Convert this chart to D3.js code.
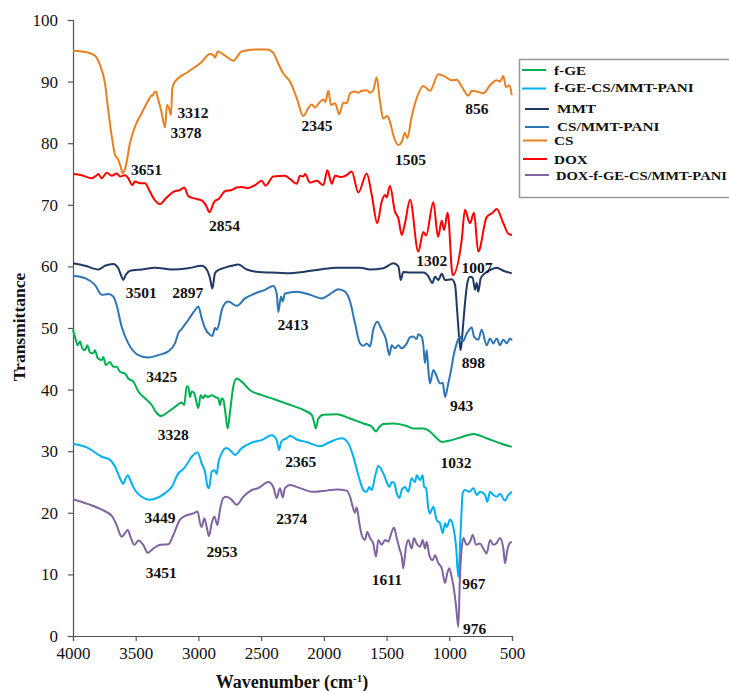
<!DOCTYPE html>
<html><head><meta charset="utf-8">
<script src="https://cdn.jsdelivr.net/npm/d3@7"></script>
<style>body{margin:0;background:#fff;} svg{display:block;}</style>
</head><body>
<svg id="chart" width="729" height="691"></svg>
<script>
// ---- DATA ----
const seriesNames = ["f-GE","f-GE-CS/MMT-PANI","MMT","CS/MMT-PANI","CS","DOX","DOX-f-GE-CS/MMT-PANI"];
const seriesColors = ["#00B050","#00B0F0","#1F3864","#2E75B6","#E8801F","#FF0000","#8064A2"];
const xTicks = [4000,3500,3000,2500,2000,1500,1000,500];
const yTicks = [0,10,20,30,40,50,60,70,80,90,100];

const csData = [[4000,95.0],[3878,94.7],[3825,94.2],[3785,92.7],[3745,89.7],[3719,85.4],[3691,81.1],[3665,78.1],[3639,77.3],[3620,76.2],[3604,75.1],[3580,76.2],[3546,80.0],[3506,82.7],[3452,84.9],[3412,86.5],[3386,87.4],[3373,87.8],[3365,87.7],[3354,88.2],[3338,88.4],[3325,87.4],[3298,85.4],[3266,82.6],[3251,86.2],[3235,85.7],[3219,84.6],[3208,88.9],[3187,90.0],[3081,91.6],[2974,93.2],[2908,94.5],[2881,94.3],[2868,93.9],[2846,94.9],[2788,94.2],[2722,93.4],[2655,94.9],[2549,95.2],[2456,95.2],[2400,94.6],[2376,93.5],[2323,91.3],[2270,90.0],[2216,87.3],[2164,84.4],[2124,85.7],[2097,86.3],[2071,85.8],[2031,86.7],[2004,87.1],[1988,86.7],[1964,88.5],[1943,86.2],[1911,86.5],[1877,84.7],[1845,86.6],[1818,86.5],[1791,88.1],[1752,88.4],[1725,88.2],[1698,88.5],[1658,88.6],[1632,88.2],[1606,88.6],[1579,90.7],[1552,86.7],[1526,84.0],[1494,84.4],[1473,83.5],[1446,81.3],[1406,79.7],[1379,80.2],[1353,81.7],[1335,80.8],[1300,84.3],[1260,87.3],[1207,89.3],[1154,88.5],[1087,91.2],[1034,90.8],[981,90.2],[941,90.3],[901,89.2],[848,87.7],[821,88.5],[781,88.4],[729,88.1],[675,89.4],[622,90.2],[596,90.0],[569,90.9],[548,89.1],[521,89.4],[502,87.8]];

const doxData = [[4000,75.0],[3931,74.8],[3851,74.3],[3811,74.8],[3798,75.0],[3771,74.3],[3731,75.2],[3691,74.7],[3652,75.1],[3625,74.6],[3585,74.8],[3559,74.3],[3527,73.2],[3506,73.8],[3466,73.5],[3426,73.5],[3386,72.1],[3346,70.7],[3306,70.1],[3266,70.9],[3200,72.1],[3147,72.4],[3113,72.8],[3081,71.4],[3027,71.0],[2974,70.7],[2934,69.7],[2913,68.8],[2873,70.5],[2836,71.0],[2788,72.2],[2735,72.4],[2695,72.8],[2655,72.9],[2607,72.7],[2549,73.2],[2496,73.9],[2464,73.1],[2403,74.6],[2310,74.7],[2270,74.2],[2216,73.4],[2190,74.7],[2164,74.6],[2150,75.0],[2110,73.6],[2057,73.9],[2004,73.2],[1972,75.6],[1937,73.4],[1911,74.7],[1858,74.5],[1818,74.8],[1778,75.4],[1725,72.0],[1658,75.1],[1618,71.6],[1574,67.0],[1539,70.5],[1512,71.6],[1499,71.2],[1473,73.1],[1433,68.9],[1406,67.8],[1379,65.1],[1353,67.0],[1313,70.8],[1247,62.4],[1207,65.6],[1185,65.0],[1127,70.4],[1090,64.8],[1060,67.4],[1042,65.9],[1013,68.7],[973,58.6],[901,64.3],[875,69.2],[835,67.0],[803,68.7],[769,62.4],[702,68.0],[654,68.7],[622,69.3],[569,67.0],[529,65.3],[500,65.1]];

const mmtData = [[4000,60.5],[3904,60.1],[3798,59.5],[3745,60.1],[3679,60.4],[3639,59.7],[3612,58.3],[3599,57.8],[3580,58.6],[3545,59.3],[3452,59.5],[3346,59.8],[3213,59.5],[3081,59.7],[2974,60.1],[2934,59.5],[2908,58.1],[2889,56.4],[2868,58.9],[2842,59.4],[2788,59.8],[2735,60.1],[2682,60.3],[2615,59.5],[2523,59.1],[2416,59.0],[2296,58.9],[2164,59.1],[2031,59.5],[1897,59.8],[1712,59.8],[1632,59.5],[1526,59.7],[1446,60.5],[1406,60.0],[1387,57.8],[1367,59.1],[1313,59.0],[1207,59.0],[1167,58.4],[1135,57.3],[1114,58.3],[1087,57.8],[1060,58.8],[1034,57.8],[981,57.9],[954,57.0],[936,52.4],[920,48.1],[909,46.4],[893,49.7],[875,54.0],[856,57.3],[835,58.3],[813,58.1],[795,56.2],[781,57.3],[769,55.9],[749,58.1],[715,58.9],[675,59.4],[622,59.8],[569,59.3],[502,58.9]];

const csMmtPaniData = [[4000,58.5],[3904,58.1],[3825,57.0],[3771,55.4],[3719,55.5],[3679,55.1],[3652,53.7],[3612,50.2],[3559,47.5],[3479,45.6],[3400,45.2],[3320,45.6],[3240,46.2],[3187,47.5],[3155,49.4],[3139,49.7],[3121,50.2],[3081,51.3],[3027,52.9],[3001,53.5],[2974,51.6],[2948,50.0],[2908,48.9],[2889,48.7],[2868,50.0],[2854,49.7],[2842,50.2],[2814,52.9],[2788,54.0],[2762,54.3],[2695,53.6],[2629,54.8],[2549,55.6],[2469,56.2],[2403,56.8],[2376,55.6],[2363,52.6],[2342,55.1],[2328,54.3],[2310,55.6],[2216,55.9],[2110,55.4],[2017,54.8],[1951,55.5],[1885,56.3],[1831,55.9],[1791,54.3],[1752,50.8],[1712,47.5],[1685,47.1],[1658,47.5],[1632,47.0],[1606,49.7],[1574,51.0],[1539,49.7],[1504,48.1],[1478,45.6],[1459,47.2],[1433,46.7],[1406,47.2],[1379,46.7],[1339,47.5],[1313,48.5],[1287,48.6],[1260,48.2],[1247,49.0],[1220,48.6],[1207,47.2],[1194,44.3],[1180,46.4],[1167,43.2],[1154,41.0],[1127,43.2],[1100,42.1],[1074,41.0],[1052,41.1],[1034,38.8],[1008,41.0],[981,43.7],[968,45.3],[941,47.5],[915,48.6],[893,47.8],[861,49.1],[821,50.1],[803,48.6],[769,48.1],[742,49.7],[702,47.2],[675,48.3],[649,47.5],[622,48.3],[596,47.2],[569,48.1],[542,47.5],[516,48.3],[500,48.0]];

const fgeData = [[4000,49.7],[3978,48.1],[3963,47.2],[3944,47.8],[3926,46.7],[3904,46.4],[3886,47.2],[3864,46.0],[3838,45.9],[3825,46.4],[3803,45.1],[3771,44.8],[3758,45.3],[3739,44.0],[3705,44.5],[3679,43.7],[3652,43.7],[3625,42.9],[3585,42.6],[3559,41.8],[3519,41.3],[3479,39.7],[3426,38.6],[3373,37.5],[3333,36.2],[3298,35.7],[3240,36.4],[3187,37.2],[3133,37.9],[3113,37.5],[3094,40.5],[3081,40.5],[3067,38.8],[3054,39.7],[3033,39.4],[3014,37.8],[3001,37.0],[2982,39.1],[2961,38.6],[2948,39.1],[2926,38.8],[2894,39.1],[2868,38.8],[2842,38.6],[2828,37.5],[2814,38.6],[2802,38.4],[2788,36.7],[2767,33.7],[2748,36.4],[2722,40.5],[2695,41.8],[2655,41.3],[2589,39.9],[2496,39.1],[2389,38.4],[2296,37.7],[2164,36.7],[2097,35.9],[2079,34.8],[2065,33.7],[2044,35.3],[2004,35.9],[1897,36.0],[1791,35.3],[1685,34.5],[1618,34.0],[1584,33.2],[1566,33.7],[1526,34.4],[1446,34.5],[1339,34.1],[1287,33.7],[1207,33.7],[1154,33.2],[1100,32.1],[1060,31.5],[981,31.8],[888,32.4],[808,32.8],[702,32.1],[596,31.3],[502,30.7]];

const fgeCsMmtPaniData = [[4000,31.2],[3878,30.5],[3771,29.1],[3705,28.6],[3665,27.5],[3625,25.6],[3599,24.7],[3580,25.6],[3564,26.1],[3538,25.0],[3506,23.7],[3452,22.6],[3392,22.1],[3320,22.5],[3266,23.2],[3213,24.2],[3160,26.4],[3121,27.1],[3094,27.8],[3054,29.1],[3006,29.8],[2974,28.0],[2948,26.7],[2926,24.2],[2916,24.0],[2894,26.7],[2873,26.9],[2854,26.3],[2842,28.0],[2814,29.7],[2775,30.5],[2735,29.9],[2708,29.4],[2655,30.5],[2575,31.4],[2496,31.8],[2416,32.6],[2376,31.8],[2357,30.2],[2342,31.4],[2328,31.8],[2296,32.1],[2270,32.5],[2216,31.9],[2137,31.5],[2031,30.8],[1951,31.5],[1858,32.1],[1805,31.3],[1765,29.1],[1725,26.1],[1685,23.7],[1658,23.4],[1638,24.2],[1618,23.7],[1592,25.9],[1566,27.6],[1526,26.4],[1499,25.0],[1478,24.2],[1459,25.0],[1441,24.9],[1419,23.2],[1398,22.4],[1379,23.7],[1353,24.2],[1327,23.4],[1300,25.6],[1273,25.0],[1260,26.1],[1233,25.3],[1212,26.1],[1201,24.2],[1185,24.0],[1167,20.7],[1154,19.9],[1127,21.0],[1100,18.8],[1074,18.3],[1052,16.7],[1034,18.3],[1020,17.7],[994,18.9],[968,17.7],[946,14.5],[928,9.6],[909,17.2],[893,23.2],[875,23.7],[840,23.4],[808,24.0],[781,22.9],[755,23.4],[715,22.9],[697,21.8],[675,23.4],[649,22.9],[622,22.6],[596,23.1],[556,22.0],[529,22.9],[502,23.4]];

const doxFgeData = [[4000,22.2],[3878,21.4],[3771,20.5],[3687,19.4],[3652,18.0],[3612,16.1],[3585,16.7],[3564,17.2],[3538,15.9],[3511,14.8],[3479,15.5],[3440,14.8],[3404,13.5],[3360,14.2],[3306,14.8],[3240,14.9],[3200,16.4],[3147,18.9],[3094,19.6],[3041,19.9],[3006,20.2],[2987,18.3],[2974,17.7],[2953,19.1],[2934,17.7],[2916,16.2],[2894,18.3],[2873,19.4],[2849,18.0],[2828,20.5],[2802,22.4],[2775,22.6],[2735,22.1],[2695,21.3],[2642,22.6],[2575,23.7],[2523,24.0],[2443,25.0],[2403,24.2],[2376,22.4],[2350,24.0],[2328,22.5],[2310,24.0],[2270,24.5],[2190,24.0],[2084,23.4],[1977,23.6],[1897,23.8],[1818,23.6],[1791,22.6],[1770,21.0],[1752,20.0],[1738,20.9],[1717,18.3],[1698,16.4],[1672,15.6],[1654,16.9],[1632,15.9],[1606,15.0],[1584,12.9],[1566,15.6],[1539,14.8],[1512,15.6],[1486,15.3],[1459,16.9],[1441,17.6],[1419,15.9],[1398,14.2],[1379,12.9],[1367,11.0],[1345,14.5],[1327,15.6],[1300,14.2],[1281,15.9],[1260,15.0],[1233,14.5],[1212,15.6],[1194,14.2],[1180,15.3],[1159,13.1],[1132,12.3],[1114,13.1],[1087,11.8],[1060,11.0],[1034,8.6],[1016,10.2],[1000,11.0],[981,9.6],[962,7.5],[946,4.8],[928,1.5],[915,9.6],[901,14.2],[888,15.9],[861,14.8],[835,15.3],[813,16.4],[787,14.8],[755,15.0],[729,14.2],[702,13.4],[675,15.6],[649,14.8],[622,15.1],[596,15.9],[569,14.2],[556,11.8],[537,14.0],[521,15.0],[502,15.3]];

// draw order (back to front)
const seriesData = [fgeData, fgeCsMmtPaniData, mmtData, csMmtPaniData, csData, doxData, doxFgeData];

const annoText = ["3651","3312","3378","2854","2345","1505","856","1302","1007","3501","2897","2413","898","943","3425","3328","1032","2365","3449","2953","2374","3451","1611","967","976"];
const annoWave = [3414,3043,3099,2792,2055,1309,781,1140,779,3455,3085,2246,808,901,3293,3200,946,2184,3306,2812,2256,3296,1497,804,797];
const annoValue = [74.8,84.1,80.8,65.8,81.9,76.5,84.7,60.1,59.0,54.8,54.8,49.6,43.5,36.6,41.3,31.8,27.2,27.4,18.4,12.9,18.2,9.4,8.3,7.7,0.4];

// ---- CHART ----
const svg = d3.select("#chart");
const x = d3.scaleLinear().domain([4000, 500]).range([73, 512]);
const y = d3.scaleLinear().domain([0, 100]).range([636, 20]);
const serif = "'Liberation Serif','Times New Roman',serif";

const xAxis = svg.append("g").attr("transform", "translate(0,636)")
  .call(d3.axisBottom(x).tickValues(xTicks).tickSize(5).tickPadding(6).tickFormat(d3.format("d")));
const yAxis = svg.append("g").attr("transform", "translate(73,0)")
  .call(d3.axisLeft(y).tickValues(yTicks).tickSize(5).tickPadding(10).tickFormat(d3.format("d")));
[xAxis, yAxis].forEach(g => {
  g.select(".domain").attr("stroke", "#555").attr("stroke-width", 1.2);
  g.selectAll(".tick line").attr("stroke", "#555").attr("stroke-width", 1.2);
  g.selectAll(".tick text").attr("font-family", serif).attr("font-size", 17).attr("fill", "#111");
});

const line = d3.line().x(d => x(d[0])).y(d => y(d[1])).curve(d3.curveMonotoneX);
seriesData.forEach((data, i) => {
  svg.append("path").datum(data)
    .attr("fill", "none").attr("stroke", seriesColors[i])
    .attr("stroke-width", 2).attr("stroke-linejoin", "round").attr("d", line);
});

// annotations
annoText.forEach((t, i) => {
  svg.append("text").attr("x", x(annoWave[i])).attr("y", y(annoValue[i]))
    .attr("text-anchor", "middle").attr("font-family", serif)
    .attr("font-weight", "bold").attr("font-size", 15.5).attr("fill", "#111").text(t);
});

// axis titles
const xt = svg.append("text").attr("x", 292).attr("y", 688).attr("text-anchor", "middle")
  .attr("font-family", serif).attr("font-weight", "bold").attr("font-size", 18).attr("fill", "#111");
xt.append("tspan").text("Wavenumber (cm");
xt.append("tspan").attr("dy", -6).attr("font-size", 11).text("-1");
xt.append("tspan").attr("dy", 6).text(")");
svg.append("text").attr("transform", "translate(25,327) rotate(-90)").attr("text-anchor", "middle")
  .attr("font-family", serif).attr("font-weight", "bold").attr("font-size", 17.5).attr("fill", "#111")
  .text("Transmittance");

// legend
const legend = svg.append("g");
legend.append("rect").attr("x", 519.5).attr("y", 59.5).attr("width", 230).attr("height", 138)
  .attr("fill", "#fff").attr("stroke", "#999").attr("stroke-width", 1.5);
const legLineY = [70, 88.5, 109, 127, 140.5, 159, 175];
const legTextBase = [75, 92, 113, 130.5, 145, 163.5, 180];
const legLineX0 = [522, 522, 525, 525, 523, 523, 525];
const legTextX = [554, 554, 557, 557, 554, 554, 556];
seriesNames.forEach((n, i) => {
  legend.append("line").attr("x1", legLineX0[i]).attr("x2", legLineX0[i] + 24)
    .attr("y1", legLineY[i]).attr("y2", legLineY[i])
    .attr("stroke", seriesColors[i]).attr("stroke-width", 2);
  const t = legend.append("text")
    .attr("font-family", serif).attr("font-weight", "bold").attr("font-size", 13.5)
    .attr("fill", "#111").text(n);
  let sx = 1.13;
  const w = t.node().getComputedTextLength();
  const maxW = 727 - legTextX[i];
  if (w * sx > maxW) sx = maxW / w;
  t.attr("transform", `translate(${legTextX[i]},${legTextBase[i]}) scale(${sx},1)`);
});
</script>
</body></html>
